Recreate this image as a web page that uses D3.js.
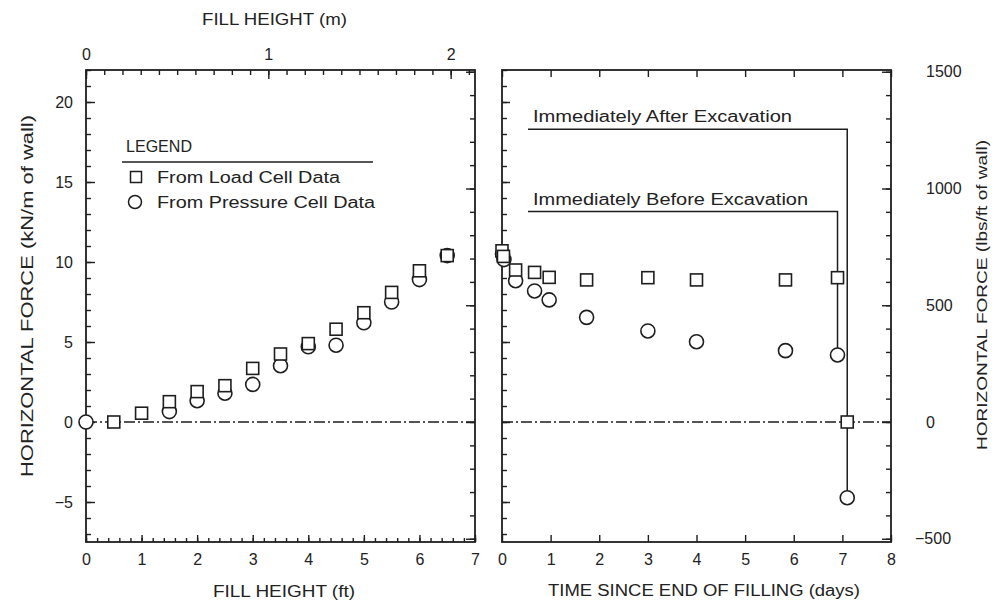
<!DOCTYPE html>
<html><head><meta charset="utf-8">
<script src="https://cdn.jsdelivr.net/npm/d3@7"></script>
<style>
body{margin:0;background:#fff}
text{font-family:"Liberation Sans",Arial,sans-serif;fill:#222}
</style>
</head><body><svg id="c" width="992" height="607"></svg>
<script>
// ---------- DATA ----------
// Left panel: horizontal force (kN/m) vs fill height (ft)
const loadFillFt    = [0.5, 1.0, 1.5, 2.0, 2.5, 3.0, 3.5, 4.0, 4.5, 5.0, 5.5, 6.0, 6.5];
const loadFillForce = [0.0, 0.55, 1.27, 1.9, 2.27, 3.35, 4.25, 4.9, 5.8, 6.83, 8.1, 9.45, 10.4];
const presFillFt    = [0.0, 1.5, 2.0, 2.5, 3.0, 3.5, 4.0, 4.5, 5.0, 5.5, 6.0, 6.5];
const presFillForce = [0.0, 0.65, 1.33, 1.8, 2.35, 3.52, 4.7, 4.8, 6.2, 7.5, 8.9, 10.4];
// Right panel: horizontal force (kN/m) vs time since end of filling (days)
const loadDays      = [0.0, 0.03, 0.28, 0.67, 0.97, 1.74, 3.0, 4.0, 5.83, 6.9, 7.1];
const loadDayForce  = [10.7, 10.35, 9.5, 9.35, 9.04, 8.88, 9.02, 8.88, 8.88, 9.02, 0.0];
const presDays      = [0.01, 0.04, 0.28, 0.67, 0.97, 1.74, 3.0, 4.0, 5.83, 6.9, 7.1];
const presDayForce  = [10.5, 10.15, 8.83, 8.19, 7.63, 6.54, 5.69, 5.02, 4.46, 4.19, -4.73];
// Excavation annotations
const annotLabels   = ["Immediately After Excavation", "Immediately Before Excavation"];
const annotDays     = [7.1, 6.9];
const annotEndForce = [-4.73, 4.19];
const annotForce    = [18.3, 13.15];
// Axis ticks / labels
const ftTicks   = [0, 1, 2, 3, 4, 5, 6, 7];
const mTicks    = [0, 1, 2];
const kNTicks   = [-5, 0, 5, 10, 15, 20];
const dayTicks  = [0, 1, 2, 3, 4, 5, 6, 7, 8];
const lbTicks   = [-500, 0, 500, 1000, 1500];
const legendLabels = ["From Load Cell Data", "From Pressure Cell Data"];

const FT_PER_M = 1 / 0.3048;
const KN_PER_LB = 0.014594;

// ---------- LAYOUT ----------
const svg = d3.select("#c");
const yTop = 70, yBot = 542;
const L = {x0: 86, x1: 475}, R = {x0: 502, x1: 891};
const ink = "#1e1e1e";

const y = d3.scaleLinear().domain([-7.5, 22]).range([yBot, yTop]);
const yLb = d3.scaleLinear().domain([-7.5 / KN_PER_LB, 22 / KN_PER_LB]).range([yBot, yTop]);
const xFt = d3.scaleLinear().domain([0, 7]).range([L.x0, L.x1]);
const xM = d3.scaleLinear().domain([0, 7 / FT_PER_M]).range([L.x0, L.x1]);
const xDay = d3.scaleLinear().domain([0, 8]).range([R.x0, R.x1]);

function styleAxis(g, fs) {
  g.select(".domain").remove();
  g.selectAll(".tick line").attr("stroke", ink).attr("stroke-width", 1.4);
  g.selectAll(".tick text").attr("fill", ink).attr("font-size", fs || 16)
    .attr("font-family", "'Liberation Sans',Arial,sans-serif");
}
const rng = (a, b, s) => d3.range(a, b + s / 2, s).map(v => +v.toFixed(6));

// ---- Left panel axes ----
svg.append("g").attr("transform", `translate(0,${yBot})`)
  .call(d3.axisBottom(xFt).tickValues(rng(0, 7, 0.2)).tickSize(-4).tickFormat(""))
  .call(styleAxis);
svg.append("g").attr("transform", `translate(0,${yBot})`)
  .call(d3.axisBottom(xFt).tickValues(ftTicks).tickSize(-7).tickPadding(12).tickFormat(d3.format("d")))
  .call(styleAxis);
svg.append("g").attr("transform", `translate(0,${yTop})`)
  .call(d3.axisTop(xM).tickValues(rng(0, 2.1, 0.1)).tickSize(-5).tickFormat(""))
  .call(styleAxis);
svg.append("g").attr("transform", `translate(0,${yTop})`)
  .call(d3.axisTop(xM).tickValues(mTicks).tickSize(-9).tickPadding(10).tickFormat(d3.format("d")))
  .call(styleAxis);
svg.append("g").attr("transform", `translate(${L.x0},0)`)
  .call(d3.axisLeft(y).tickValues(rng(-7, 22, 1)).tickSize(-5).tickFormat(""))
  .call(styleAxis);
svg.append("g").attr("transform", `translate(${L.x0},0)`)
  .call(d3.axisLeft(y).tickValues(kNTicks).tickSize(-9).tickPadding(13).tickFormat(d => d < 0 ? "\u2212" + (-d) : d))
  .call(styleAxis);
svg.append("g").attr("transform", `translate(${L.x1},0)`)
  .call(d3.axisRight(yLb).tickValues(rng(-500, 1500, 100)).tickSize(-5).tickFormat(""))
  .call(styleAxis);
svg.append("g").attr("transform", `translate(${L.x1},0)`)
  .call(d3.axisRight(yLb).tickValues(lbTicks).tickSize(-9).tickFormat(""))
  .call(styleAxis);

// ---- Right panel axes ----
svg.append("g").attr("transform", `translate(0,${yBot})`)
  .call(d3.axisBottom(xDay).tickValues(dayTicks).tickSize(-7).tickPadding(12).tickFormat(d3.format("d")))
  .call(styleAxis);
svg.append("g").attr("transform", `translate(0,${yTop})`)
  .call(d3.axisTop(xDay).tickValues(dayTicks).tickSize(-7).tickFormat(""))
  .call(styleAxis);
svg.append("g").attr("transform", `translate(${R.x0},0)`)
  .call(d3.axisLeft(y).tickValues(rng(-7, 22, 1)).tickSize(-5).tickFormat(""))
  .call(styleAxis);
svg.append("g").attr("transform", `translate(${R.x0},0)`)
  .call(d3.axisLeft(y).tickValues(kNTicks).tickSize(-8).tickFormat(""))
  .call(styleAxis);
svg.append("g").attr("transform", `translate(${R.x1},0)`)
  .call(d3.axisRight(yLb).tickValues(rng(-500, 1500, 100)).tickSize(-5).tickFormat(""))
  .call(styleAxis);
const rAx = svg.append("g").attr("transform", `translate(${R.x1},0)`)
  .call(d3.axisRight(yLb).tickValues(lbTicks).tickSize(-9).tickPadding(35).tickFormat(d => d < 0 ? "\u2212" + (-d) : d))
  .call(styleAxis);
rAx.selectAll(".tick text").filter(d => d < 0).attr("x", 24);

// frames
[L, R].forEach(p => svg.append("rect")
  .attr("x", p.x0).attr("y", yTop).attr("width", p.x1 - p.x0).attr("height", yBot - yTop)
  .attr("fill", "none").attr("stroke", ink).attr("stroke-width", 1.8));

// zero dash-dot lines
[L, R].forEach(p => svg.append("line")
  .attr("x1", p.x0).attr("x2", p.x1).attr("y1", y(0)).attr("y2", y(0))
  .attr("stroke", ink).attr("stroke-width", 1.5).attr("stroke-dasharray", "11,3,2,3"));

// annotations
annotLabels.forEach((lab, i) => {
  const yy = y(annotForce[i]);
  svg.append("path")
    .attr("d", `M528,${yy}H${xDay(annotDays[i])}V${y(annotEndForce[i])}`)
    .attr("fill", "none").attr("stroke", ink).attr("stroke-width", 1.5);
  svg.append("text").attr("x", 533).attr("y", yy - 7)
    .attr("font-size", 16).attr("textLength", i === 0 ? 259 : 275).attr("lengthAdjust", "spacingAndGlyphs")
    .text(lab);
});

// markers
const sq = 12, cr = 7;
function squares(xs, ys, sx) {
  svg.append("g").selectAll("rect").data(xs).join("rect")
    .attr("x", (d) => sx(d) - sq / 2).attr("y", (d, i) => y(ys[i]) - sq / 2)
    .attr("width", sq).attr("height", sq)
    .attr("fill", "#fff").attr("stroke", ink).attr("stroke-width", 1.6);
}
function circles(xs, ys, sx) {
  svg.append("g").selectAll("circle").data(xs).join("circle")
    .attr("cx", d => sx(d)).attr("cy", (d, i) => y(ys[i])).attr("r", cr)
    .attr("fill", "#fff").attr("stroke", ink).attr("stroke-width", 1.6);
}
circles(presFillFt, presFillForce, xFt);
squares(loadFillFt, loadFillForce, xFt);
circles(presDays, presDayForce, xDay);
squares(loadDays, loadDayForce, xDay);

// legend
svg.append("text").attr("x", 126).attr("y", 152).attr("font-size", 16)
  .attr("textLength", 66).attr("lengthAdjust", "spacingAndGlyphs").text("LEGEND");
svg.append("line").attr("x1", 122).attr("x2", 373).attr("y1", 162).attr("y2", 162)
  .attr("stroke", ink).attr("stroke-width", 1.5);
svg.append("rect").attr("x", 136 - 11 / 2).attr("y", 177 - 11 / 2).attr("width", 11).attr("height", 11)
  .attr("fill", "#fff").attr("stroke", ink).attr("stroke-width", 1.5);
svg.append("circle").attr("cx", 135).attr("cy", 202).attr("r", 6.5)
  .attr("fill", "#fff").attr("stroke", ink).attr("stroke-width", 1.5);
svg.append("text").attr("x", 157).attr("y", 183).attr("font-size", 16)
  .attr("textLength", 183).attr("lengthAdjust", "spacingAndGlyphs").text(legendLabels[0]);
svg.append("text").attr("x", 157).attr("y", 208).attr("font-size", 16)
  .attr("textLength", 218).attr("lengthAdjust", "spacingAndGlyphs").text(legendLabels[1]);

// axis titles
svg.append("text").attr("x", 202).attr("y", 25).attr("font-size", 16)
  .attr("textLength", 145).attr("lengthAdjust", "spacingAndGlyphs").text("FILL HEIGHT (m)");
svg.append("text").attr("x", 213).attr("y", 597).attr("font-size", 16)
  .attr("textLength", 142).attr("lengthAdjust", "spacingAndGlyphs").text("FILL HEIGHT (ft)");
svg.append("text").attr("x", 548).attr("y", 596).attr("font-size", 16)
  .attr("textLength", 312).attr("lengthAdjust", "spacingAndGlyphs").text("TIME SINCE END OF FILLING (days)");
svg.append("text").attr("transform", "translate(33,477) rotate(-90)").attr("font-size", 16)
  .attr("textLength", 362).attr("lengthAdjust", "spacingAndGlyphs").text("HORIZONTAL FORCE (kN/m of wall)");
svg.append("text").attr("transform", "translate(987,450) rotate(-90)").attr("font-size", 14)
  .attr("textLength", 310).attr("lengthAdjust", "spacingAndGlyphs").text("HORIZONTAL FORCE (lbs/ft of wall)");
</script>
</body></html>
